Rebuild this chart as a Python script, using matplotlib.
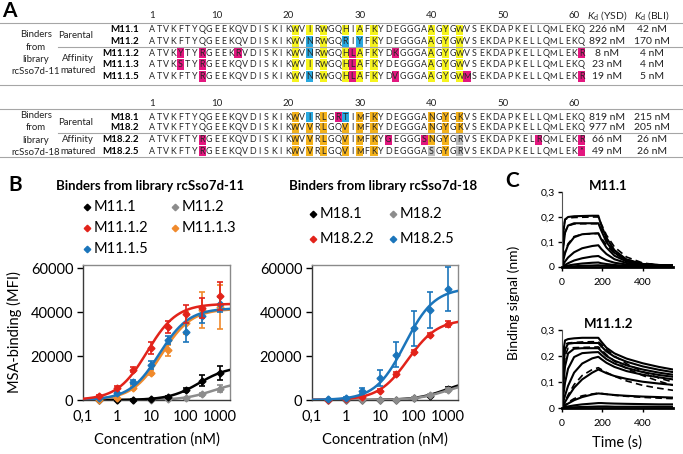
import numpy as np
import matplotlib.pyplot as plt
from matplotlib.patches import Rectangle

plt.rcParams['font.family'] = ['Lato', 'DejaVu Sans']
plt.rcParams['mathtext.fontset'] = 'custom'
plt.rcParams['mathtext.it'] = 'Lato:italic'
plt.rcParams['mathtext.rm'] = 'Lato'

#######################
#   PANEL A DATA
#######################
block1_names = ['M11.1', 'M11.2', 'M11.1.2', 'M11.1.3', 'M11.1.5']
block1_seqs = ['ATVKFTYQGEEKQVDISKIKWVIRWGQHIAFKYDEGGGAAGYGWVSEKDAPKELLQMLEKQ',
               'ATVKFTYQGEEKQVDISKIKWVNRWGQRIYFKYDEGGGAAGYGWVSEKDAPKELLQMLEKQ',
               'ATVKYTYRGEEKRVDISKIKWVNRWGQHLAFKYDKGGGAAGYGWVSEKDAPKELLQMLEKR',
               'ATVKSTYRGEEKQVDISKIKWVIRWGQHLAFKYDEGGGAAGYGWVSEKDAPKELLQMLEKQ',
               'ATVKFTYRGEEKQVDISKIKWVNRWGQHLAFKYDVGGGAAGYGWMSEKDAPKELLQMLEKR']
block1_marks = [{'y': [21, 23, 25, 28, 30, 32, 40, 42, 44]},
                {'y': [21, 25, 32, 40, 42, 44], 'b': [23, 28, 30]},
                {'y': [21, 25, 28, 30, 32, 40, 42, 44], 'b': [23], 'm': [5, 8, 13, 29, 35, 61]},
                {'y': [21, 23, 25, 28, 30, 32, 40, 42, 44], 'm': [5, 8, 29]},
                {'y': [21, 25, 28, 30, 32, 40, 42, 44], 'b': [23], 'm': [8, 29, 35, 45, 61]}]
block1_kd_ysd = ['226 nM', '892 nM', '8 nM', '23 nM', '19 nM']
block1_kd_bli = ['42 nM', '170 nM', '4 nM', '4 nM', '5 nM']

block2_names = ['M18.1', 'M18.2', 'M18.2.2', 'M18.2.5']
block2_seqs = ['ATVKFTYQGEEKQVDISKIKWVIRLGRTIMFKYDEGGGANGYGKVSEKDAPKELLQMLEKQ',
               'ATVKFTYQGEEKQVDISKIKWVVRLGQVIMFKYDEGGGANGYGKVSEKDAPKELLQMLEKQ',
               'ATVKFTYRGEEKQVDISKIKWVVRLGQVIMFKYGEGGGSNGYGRVSEKDAPKELRQMLEKR',
               'ATVKFTYRGEEKQVDISKIKWVVRLGQVIMFKYDEGGGASGYGRVSEKDAPKELLQMLEK*']
block2_marks = [{'o': [21, 25, 30, 32, 40, 42, 44], 'b': [23, 28], 'm': [27]},
                {'o': [21, 23, 25, 28, 30, 32, 40, 42, 44]},
                {'o': [21, 23, 25, 28, 30, 32, 40, 42], 'g': [44], 'm': [8, 34, 39, 55, 61]},
                {'o': [21, 23, 25, 28, 30, 32, 42], 'g': [40, 44], 'm': [8, 61]}]
block2_kd_ysd = ['819 nM', '977 nM', '66 nM', '49 nM']
block2_kd_bli = ['215 nM', '205 nM', '26 nM', '26 nM']

seq_numbers = [1, 10, 20, 30, 40, 50, 60]

#######################
#   PANEL B DATA
#######################
conc = [0.3, 1, 3, 10, 30, 100, 300, 1000]

m11_1 = [0, 0, 100, 300, 1500, 4400, 8800, 12300]
m11_1_err = [200, 200, 200, 300, 500, 900, 2400, 3000]
m11_2 = [0, 0, 0, 100, 300, 800, 2700, 5200]
m11_2_err = [100, 100, 100, 100, 200, 300, 700, 1500]
m11_1_2 = [1800, 5600, 13800, 23600, 33200, 39100, 41800, 47300]
m11_1_2_err = [600, 800, 1000, 2700, 2800, 4000, 4700, 6300]
m11_1_3 = [0, 900, 5500, 12500, 22700, 35000, 40900, 42300]
m11_1_3_err = [200, 400, 800, 1200, 2500, 4800, 8000, 10000]
m11_1_5 = [800, 3100, 8200, 15900, 27300, 30900, 38200, 43600]
m11_1_5_err = [300, 600, 1000, 2000, 2000, 4300, 3300, 3400]

m18_1 = [0, 0, 0, 100, 200, 700, 2000, 5000]
m18_1_err = [100, 100, 100, 100, 200, 300, 500, 800]
m18_2 = [0, 0, 0, 0, 200, 900, 2300, 4600]
m18_2_err = [100, 100, 100, 100, 200, 300, 500, 800]
m18_2_2 = [0, 300, 1500, 4200, 11800, 21800, 29500, 34500]
m18_2_2_err = [200, 300, 500, 600, 800, 900, 1000, 1500]
m18_2_5 = [300, 1000, 4200, 10000, 20500, 32700, 40900, 50400]
m18_2_5_err = [300, 400, 1300, 3800, 5700, 8000, 8000, 10000]

# fitted binding isotherms (Bmax, Kd in nM)
fit_11 = {'M11.1': (15400, 250), 'M11.2': (8700, 660), 'M11.1.2': (43800, 7.5),
          'M11.1.3': (41500, 20), 'M11.1.5': (41800, 17)}
fit_18 = {'M18.1': (9500, 900), 'M18.2': (8300, 890), 'M18.2.2': (36700, 67),
          'M18.2.5': (51000, 55)}

#######################
#   PANEL C DATA
#######################
time_s = [0, 5, 15, 30, 60, 100, 150, 180, 195, 220, 260, 320, 400, 480, 550]

m11_1_bli = [[0, 0.13, 0.19, 0.2, 0.203, 0.204, 0.205, 0.205, 0.166, 0.117, 0.067, 0.03, 0.012, 0.008, 0.006],
             [0, 0.07, 0.137, 0.166, 0.175, 0.175, 0.175, 0.175, 0.145, 0.1, 0.057, 0.027, 0.012, 0.008, 0.006],
             [0, 0.022, 0.055, 0.088, 0.119, 0.131, 0.134, 0.135, 0.11, 0.078, 0.045, 0.022, 0.01, 0.007, 0.006],
             [0, 0.008, 0.022, 0.038, 0.059, 0.075, 0.084, 0.087, 0.072, 0.052, 0.031, 0.016, 0.008, 0.006, 0.005],
             [0, 0.003, 0.008, 0.015, 0.026, 0.035, 0.042, 0.044, 0.037, 0.027, 0.017, 0.01, 0.006, 0.005, 0.004],
             [0, 0.001, 0.003, 0.006, 0.01, 0.014, 0.017, 0.018, 0.015, 0.012, 0.008, 0.005, 0.004, 0.003, 0.003],
             [0, 0, 0.001, 0.002, 0.003, 0.005, 0.006, 0.007, 0.006, 0.005, 0.004, 0.003, 0.002, 0.002, 0.002]]
m11_1_fit = [[0, 0.14, 0.19, 0.196, 0.198, 0.199, 0.2, 0.2, 0.172, 0.128, 0.08, 0.04, 0.016, 0.008, 0.005],
             [0, 0.075, 0.14, 0.165, 0.172, 0.173, 0.173, 0.173, 0.15, 0.108, 0.064, 0.03, 0.013, 0.008, 0.006],
             [0, 0.025, 0.06, 0.093, 0.122, 0.131, 0.133, 0.134, 0.116, 0.088, 0.054, 0.027, 0.012, 0.007, 0.005]]

m11_1_2_bli = [[0, 0.21, 0.26, 0.265, 0.268, 0.27, 0.27, 0.27, 0.255, 0.232, 0.21, 0.19, 0.172, 0.158, 0.148],
               [0, 0.13, 0.225, 0.247, 0.25, 0.25, 0.25, 0.25, 0.237, 0.218, 0.197, 0.178, 0.16, 0.147, 0.138],
               [0, 0.075, 0.16, 0.21, 0.228, 0.23, 0.23, 0.23, 0.218, 0.2, 0.182, 0.164, 0.148, 0.136, 0.128],
               [0, 0.039, 0.097, 0.151, 0.196, 0.211, 0.214, 0.215, 0.204, 0.188, 0.171, 0.154, 0.138, 0.127, 0.12],
               [0, 0.018, 0.048, 0.085, 0.136, 0.171, 0.191, 0.197, 0.188, 0.174, 0.158, 0.142, 0.128, 0.118, 0.11],
               [0, 0.008, 0.023, 0.043, 0.078, 0.11, 0.136, 0.148, 0.143, 0.134, 0.123, 0.112, 0.101, 0.094, 0.089],
               [0, 0.003, 0.009, 0.017, 0.03, 0.042, 0.052, 0.056, 0.055, 0.053, 0.05, 0.047, 0.044, 0.042, 0.04],
               [0, 0.001, 0.003, 0.006, 0.01, 0.014, 0.017, 0.019, 0.019, 0.018, 0.017, 0.016, 0.015, 0.014, 0.014],
               [0, 0, 0.001, 0.002, 0.003, 0.004, 0.005, 0.006, 0.006, 0.006, 0.005, 0.005, 0.005, 0.005, 0.005]]
m11_1_2_fit = [[0, 0.2, 0.245, 0.25, 0.252, 0.254, 0.255, 0.255, 0.245, 0.225, 0.2, 0.17, 0.14, 0.115, 0.1],
               [0, 0.11, 0.2, 0.23, 0.232, 0.233, 0.234, 0.235, 0.225, 0.205, 0.18, 0.152, 0.125, 0.103, 0.087],
               [0, 0.009, 0.026, 0.05, 0.09, 0.125, 0.148, 0.155, 0.148, 0.137, 0.122, 0.104, 0.087, 0.076, 0.068],
               [0, 0.004, 0.012, 0.022, 0.036, 0.047, 0.054, 0.057, 0.056, 0.053, 0.049, 0.045, 0.041, 0.038, 0.036]]

#######################
#   FIGURE
#######################
W, H = 683, 454
fig = plt.figure(figsize=(W / 100, H / 100), dpi=100)
bg = fig.add_axes([0, 0, 1, 1])
bg.set_xlim(0, W)
bg.set_ylim(H, 0)
bg.axis('off')

hl_colors = {'y': '#f6f41e', 'b': '#2aa9e0', 'm': '#e3177f', 'o': '#f4b21b', 'g': '#bdbdbd'}
seq_x0 = 152
seq_dx = 7.16
line_col = '#a6a6a6'
txt_col = '#222222'


def draw_block(names, seqs, marks, kd1, kd2, ys, group, y_num, y_lines):
    for n in seq_numbers:
        bg.text(seq_x0 + (n - 1) * seq_dx, y_num, str(n), fontsize=7, ha='center', va='center', color=txt_col)
    for yl, x_start in y_lines:
        bg.plot([x_start, W], [yl, yl], color=line_col, lw=0.8)
    for name, seq, mk, k1, k2, y in zip(names, seqs, marks, kd1, kd2, ys):
        for key, poss in mk.items():
            for p in poss:
                bg.add_patch(Rectangle((seq_x0 + (p - 1.5) * seq_dx, y - 5.2), seq_dx, 10.4,
                                       color=hl_colors[key], lw=0))
        for i, ch in enumerate(seq):
            # W is wide, shrink it a little so it stays inside its cell
            fs = 5.9 if ch in 'WM' else 6.4
            bg.text(seq_x0 + i * seq_dx, y, ch, fontsize=fs, ha='center', va='center', color='#262626')
        bg.text(139, y, name, fontsize=7, fontweight='bold', ha='right', va='center')
        bg.text(607, y, k1, fontsize=7.5, ha='center', va='center', color=txt_col)
        bg.text(652, y, k2, fontsize=7.5, ha='center', va='center', color=txt_col)
    yc = (ys[0] + ys[-1]) / 2
    for j, word in enumerate(['Binders', 'from', 'library', group]):
        bg.text(36, yc + (j - 1.5) * 12.2, word, fontsize=6.9, ha='center', va='center', color=txt_col)
    bg.text(76, (ys[0] + ys[1]) / 2, 'Parental', fontsize=6.9, ha='center', va='center', color=txt_col)
    ya = (ys[2] + ys[-1]) / 2
    bg.text(78, ya - 6, 'Affinity', fontsize=6.9, ha='center', va='center', color=txt_col)
    bg.text(78, ya + 6, 'matured', fontsize=6.9, ha='center', va='center', color=txt_col)


draw_block(block1_names, block1_seqs, block1_marks, block1_kd_ysd, block1_kd_bli,
           [30, 41.5, 53, 64.5, 76.5], 'rcSso7d-11', 16, [(23, 0), (47, 58), (85, 0)])
draw_block(block2_names, block2_seqs, block2_marks, block2_kd_ysd, block2_kd_bli,
           [117, 128, 140, 151], 'rcSso7d-18', 104, [(109, 0), (133, 58), (157, 0)])
bg.text(607, 16, r'$K_\mathrm{d}$ (YSD)', fontsize=7.5, ha='center', va='center', color=txt_col)
bg.text(652, 16, r'$K_\mathrm{d}$ (BLI)', fontsize=7.5, ha='center', va='center', color=txt_col)

# panel letters
bg.text(2, 11, 'A', fontsize=15, fontweight='bold', ha='left', va='center')
bg.text(8, 185, 'B', fontsize=15, fontweight='bold', ha='left', va='center')
bg.text(505, 181, 'C', fontsize=15, fontweight='bold', ha='left', va='center')

#######################
#   PANEL B
#######################
colors = {'black': '#000000', 'gray': '#8c8c8c', 'red': '#e2231a', 'orange': '#f08a2c', 'blue': '#1b75bb'}
xfit = np.logspace(-1, np.log10(2000), 300)


def fig_ax(left, top, right, bottom):
    return fig.add_axes([left / W, 1 - bottom / H, (right - left) / W, (bottom - top) / H])


def style_b(ax):
    ax.set_xscale('log')
    ax.set_xlim(0.1, 2000)
    ax.set_ylim(0, 61400)
    ax.set_xticks([0.1, 1, 10, 100, 1000])
    ax.set_xticklabels(['0,1', '1', '10', '100', '1000'])
    ax.minorticks_off()
    ax.set_yticks([0, 20000, 40000, 60000])
    ax.tick_params(axis='y', length=4, width=1, labelsize=10.5, pad=3)
    ax.tick_params(axis='x', length=0, labelsize=10.5, pad=7)
    for s in ['top', 'right']:
        ax.spines[s].set_color('#8a8a8a')
        ax.spines[s].set_linewidth(1)
    for s in ['left', 'bottom']:
        ax.spines[s].set_color('#3a3a3a')
        ax.spines[s].set_linewidth(1)
    ax.set_xlabel('Concentration (nM)', fontsize=10.5, labelpad=6)


def draw_series(ax, y, err, name, fits, col, z):
    bmax, kd = fits[name]
    ax.plot(xfit, bmax * xfit / (xfit + kd), color=col, lw=1.8, zorder=z)
    ax.errorbar(conc, y, yerr=err, fmt='D', ms=3.5, color=col, ecolor=col, elinewidth=1.2,
                capsize=2.2, capthick=1.2, zorder=z + 0.5, clip_on=False)


ax1 = fig_ax(83, 265, 230, 400)
style_b(ax1)
ax1.set_ylabel('MSA-binding (MFI)', fontsize=10.5, labelpad=6)
draw_series(ax1, m11_2, m11_2_err, 'M11.2', fit_11, colors['gray'], 2)
draw_series(ax1, m11_1, m11_1_err, 'M11.1', fit_11, colors['black'], 3)
draw_series(ax1, m11_1_3, m11_1_3_err, 'M11.1.3', fit_11, colors['orange'], 4)
draw_series(ax1, m11_1_5, m11_1_5_err, 'M11.1.5', fit_11, colors['blue'], 5)
draw_series(ax1, m11_1_2, m11_1_2_err, 'M11.1.2', fit_11, colors['red'], 6)

ax2 = fig_ax(312, 265, 458, 400)
style_b(ax2)
draw_series(ax2, m18_1, m18_1_err, 'M18.1', fit_18, colors['black'], 2)
draw_series(ax2, m18_2, m18_2_err, 'M18.2', fit_18, colors['gray'], 3)
draw_series(ax2, m18_2_2, m18_2_2_err, 'M18.2.2', fit_18, colors['red'], 4)
draw_series(ax2, m18_2_5, m18_2_5_err, 'M18.2.5', fit_18, colors['blue'], 5)

bg.text(150, 186, 'Binders from library rcSso7d-11', fontsize=9.5, fontweight='bold', ha='center', va='center')
bg.text(383, 186, 'Binders from library rcSso7d-18', fontsize=9.5, fontweight='bold', ha='center', va='center')

# legends (hand placed like the original)
leg11 = [('M11.1', 'black', 87, 207), ('M11.2', 'gray', 175, 207),
         ('M11.1.2', 'red', 87, 228), ('M11.1.3', 'orange', 175, 228),
         ('M11.1.5', 'blue', 87, 249)]
leg18 = [('M18.1', 'black', 313, 214), ('M18.2', 'gray', 393, 214),
         ('M18.2.2', 'red', 313, 239), ('M18.2.5', 'blue', 393, 239)]
for lab, c, lx, ly in leg11 + leg18:
    bg.plot([lx], [ly], marker='D', ms=3.3, color=colors[c], lw=0)
    bg.text(lx + 7, ly, lab, fontsize=10.5, ha='left', va='center')

#######################
#   PANEL C
#######################


def style_c(ax, title):
    ax.set_xlim(0, 550)
    ax.set_ylim(0, 0.3)
    ax.set_xticks([0, 200, 400])
    ax.set_yticks([0, 0.1, 0.2, 0.3])
    ax.set_yticklabels(['0', '0,1', '0,2', '0,3'])
    ax.tick_params(axis='both', length=3, width=1, labelsize=7.5, pad=2)
    ax.tick_params(axis='x', pad=5)
    for s in ['top', 'right']:
        ax.spines[s].set_visible(False)
    ax.spines['left'].set_color('#555555')
    ax.spines['bottom'].set_linewidth(2)
    ax.set_title(title, fontsize=9.5, fontweight='bold', pad=-2, x=0.42)


ax3 = fig_ax(562, 192, 673, 267)
style_c(ax3, 'M11.1')
for curve in m11_1_bli:
    ax3.plot(time_s, curve, color='black', lw=1.5)
for curve in m11_1_fit:
    ax3.plot(time_s, curve, color='black', lw=1.2, ls=(0, (4, 2.5)))

ax4 = fig_ax(562, 330, 673, 408)
style_c(ax4, 'M11.1.2')
for curve in m11_1_2_bli:
    ax4.plot(time_s, curve, color='black', lw=1.5)
for curve in m11_1_2_fit:
    ax4.plot(time_s, curve, color='black', lw=1.2, ls=(0, (4, 2.5)))
ax4.set_xlabel('Time (s)', fontsize=10.5, labelpad=5)

bg.text(514, 303, 'Binding signal (nm)', fontsize=10, rotation=90, ha='center', va='center')

fig.savefig('out.png', dpi=100)
